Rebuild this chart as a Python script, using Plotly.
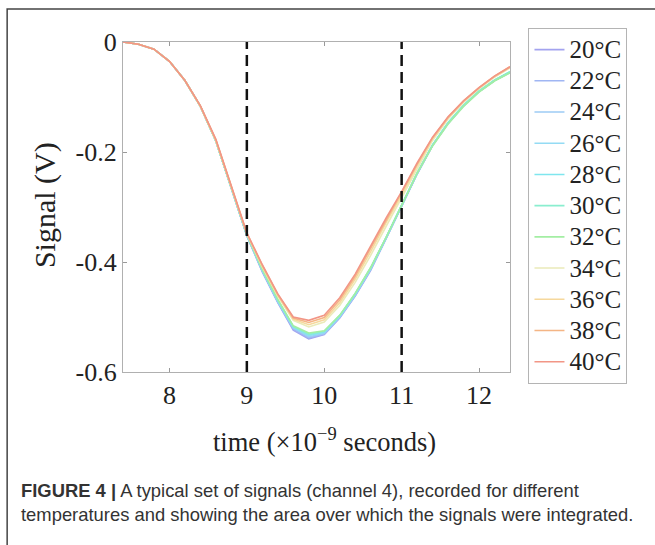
import plotly.graph_objects as go

# ---- data ----
time_ns = [7.4, 7.6, 7.8, 8.0, 8.2, 8.4, 8.6, 8.8, 9.0, 9.2, 9.4, 9.6, 9.8,
           10.0, 10.2, 10.4, 10.6, 10.8, 11.0, 11.2, 11.4, 11.6, 11.8, 12.0, 12.2, 12.4]

temps = ["20°C", "22°C", "24°C", "26°C", "28°C", "30°C", "32°C", "34°C", "36°C", "38°C", "40°C"]

s20 = [0, -0.004, -0.013, -0.035, -0.070, -0.117, -0.180, -0.264, -0.352, -0.418, -0.474, -0.524, -0.540,
       -0.532, -0.502, -0.462, -0.415, -0.357, -0.298, -0.240, -0.188, -0.148, -0.116, -0.090, -0.070, -0.055]
s22 = [0, -0.004, -0.013, -0.035, -0.070, -0.117, -0.180, -0.264, -0.352, -0.417, -0.473, -0.522, -0.538,
       -0.531, -0.501, -0.461, -0.414, -0.357, -0.298, -0.240, -0.188, -0.148, -0.116, -0.090, -0.070, -0.055]
s24 = [0, -0.004, -0.013, -0.035, -0.070, -0.117, -0.180, -0.264, -0.352, -0.416, -0.472, -0.520, -0.536,
       -0.530, -0.500, -0.460, -0.413, -0.356, -0.297, -0.239, -0.188, -0.148, -0.116, -0.090, -0.070, -0.055]
s26 = [0, -0.004, -0.013, -0.035, -0.070, -0.117, -0.180, -0.264, -0.351, -0.415, -0.471, -0.519, -0.534,
       -0.528, -0.499, -0.459, -0.412, -0.356, -0.297, -0.239, -0.187, -0.147, -0.115, -0.090, -0.070, -0.055]
s28 = [0, -0.004, -0.013, -0.035, -0.070, -0.117, -0.180, -0.264, -0.351, -0.414, -0.470, -0.518, -0.532,
       -0.527, -0.498, -0.458, -0.411, -0.355, -0.296, -0.238, -0.187, -0.147, -0.115, -0.089, -0.070, -0.054]
s30 = [0, -0.004, -0.013, -0.035, -0.070, -0.117, -0.180, -0.264, -0.351, -0.414, -0.469, -0.517, -0.531,
       -0.526, -0.497, -0.457, -0.410, -0.355, -0.296, -0.238, -0.187, -0.147, -0.115, -0.089, -0.069, -0.054]
s32 = [0, -0.004, -0.013, -0.035, -0.070, -0.117, -0.180, -0.264, -0.350, -0.413, -0.468, -0.516, -0.529,
       -0.525, -0.497, -0.457, -0.410, -0.355, -0.297, -0.239, -0.189, -0.149, -0.117, -0.091, -0.071, -0.056]
s34 = [0, -0.004, -0.013, -0.035, -0.070, -0.117, -0.179, -0.263, -0.349, -0.409, -0.462, -0.506, -0.518,
       -0.509, -0.479, -0.437, -0.388, -0.335, -0.283, -0.229, -0.179, -0.140, -0.110, -0.085, -0.064, -0.047]
s36 = [0, -0.004, -0.013, -0.035, -0.070, -0.117, -0.179, -0.263, -0.348, -0.408, -0.461, -0.504, -0.514,
       -0.505, -0.474, -0.431, -0.381, -0.328, -0.278, -0.225, -0.176, -0.138, -0.108, -0.084, -0.063, -0.046]
s38 = [0, -0.004, -0.013, -0.035, -0.070, -0.116, -0.178, -0.262, -0.348, -0.406, -0.459, -0.502, -0.510,
       -0.501, -0.469, -0.426, -0.375, -0.324, -0.275, -0.222, -0.174, -0.137, -0.107, -0.083, -0.062, -0.045]
s40 = [0, -0.004, -0.013, -0.035, -0.070, -0.116, -0.177, -0.262, -0.347, -0.405, -0.458, -0.500, -0.506,
       -0.497, -0.465, -0.422, -0.370, -0.320, -0.272, -0.220, -0.173, -0.136, -0.107, -0.083, -0.062, -0.045]

series = [s20, s22, s24, s26, s28, s30, s32, s34, s36, s38, s40]

integration_bounds = [9, 11]

x_ticks = [8, 9, 10, 11, 12]
y_ticks = [0, -0.2, -0.4, -0.6]
y_tick_text = ["0", "-0.2", "-0.4", "-0.6"]

colors = ["#a3a3ef", "#a0b6f3", "#9dcbf5", "#94dbf4", "#7fe6ee", "#8aeecf",
          "#a3eea3", "#eaeab8", "#f6d89c", "#f4b585", "#f29686"]

x_title = "time (×10<sup>−9</sup> seconds)"
y_title = "Signal (V)"
caption = ("<b>FIGURE 4 |</b> A typical set of signals (channel 4), recorded for different<br>"
           "temperatures and showing the area over which the signals were integrated.")

# ---- geometry helpers (pixel -> paper) ----
W, H = 655, 545
L, R, T, B = 123, 510.5, 42, 372


def px2x(px):
    return (px - L) / (R - L)


def py2y(py):
    return (B - py) / (B - T)


serif = "Liberation Serif"
ink = "#222222"

fig = go.Figure()
for name, vals, col in zip(temps, series, colors):
    fig.add_trace(go.Scatter(
        x=time_ns, y=vals, mode="lines",
        name="<span style='font-size:25px'>" + name + "</span>",
        line=dict(color=col, width=1.6)))

for xb in integration_bounds:
    fig.add_shape(type="line", xref="x", yref="paper", x0=xb, x1=xb, y0=0, y1=1,
                  line=dict(color="#111111", width=2.5, dash="11px,6px"), layer="above")

# outer figure frame
fig.add_shape(type="rect", xref="paper", yref="paper",
              x0=px2x(7), x1=px2x(720), y0=py2y(620), y1=py2y(9),
              line=dict(color="#444444", width=1.5), layer="below")

fig.update_layout(
    width=W, height=H,
    margin=dict(l=L, r=W - R, t=T, b=H - B),
    paper_bgcolor="white", plot_bgcolor="white",
    font=dict(family=serif, size=26, color=ink),
    xaxis=dict(range=[7.4, 12.4], tickvals=x_ticks, ticks="inside", ticklen=4,
               tickcolor="#999999", showline=True, linecolor="#b0b0b0", linewidth=1.2,
               mirror="ticks", showgrid=False, zeroline=False,
               tickfont=dict(family=serif, size=26, color=ink)),
    yaxis=dict(range=[-0.6, 0], tickvals=y_ticks, ticktext=y_tick_text, ticks="inside",
               ticklen=4, tickcolor="#999999", showline=True, linecolor="#b0b0b0",
               linewidth=1.2, mirror="ticks", showgrid=False, zeroline=False,
               ticklabelstandoff=0,
               tickfont=dict(family=serif, size=26, color=ink)),
    legend=dict(x=px2x(529), y=py2y(28), xanchor="left", yanchor="top",
                bordercolor="#b4b4b4", borderwidth=1, bgcolor="white",
                font=dict(family=serif, size=21.7, color=ink),
                tracegroupgap=0, maxheight=500),
    showlegend=True,
)

fig.add_annotation(xref="paper", yref="paper", x=px2x(325), y=py2y(440),
                   xanchor="center", yanchor="middle", showarrow=False,
                   text=x_title, font=dict(family=serif, size=26.5, color=ink))
fig.add_annotation(xref="paper", yref="paper", x=px2x(45), y=py2y(205),
                   xanchor="center", yanchor="middle", showarrow=False, textangle=-90,
                   text=y_title, font=dict(family=serif, size=30, color=ink))

fig.add_annotation(xref="paper", yref="paper", x=px2x(19), y=py2y(478),
                   xanchor="left", yanchor="top", align="left", showarrow=False,
                   text=caption,
                   font=dict(family="Liberation Sans", size=18.4, color="#333333"))

fig.write_html("out.html", config={"displayModeBar": False},
               post_script="document.body.style.margin='0';")
